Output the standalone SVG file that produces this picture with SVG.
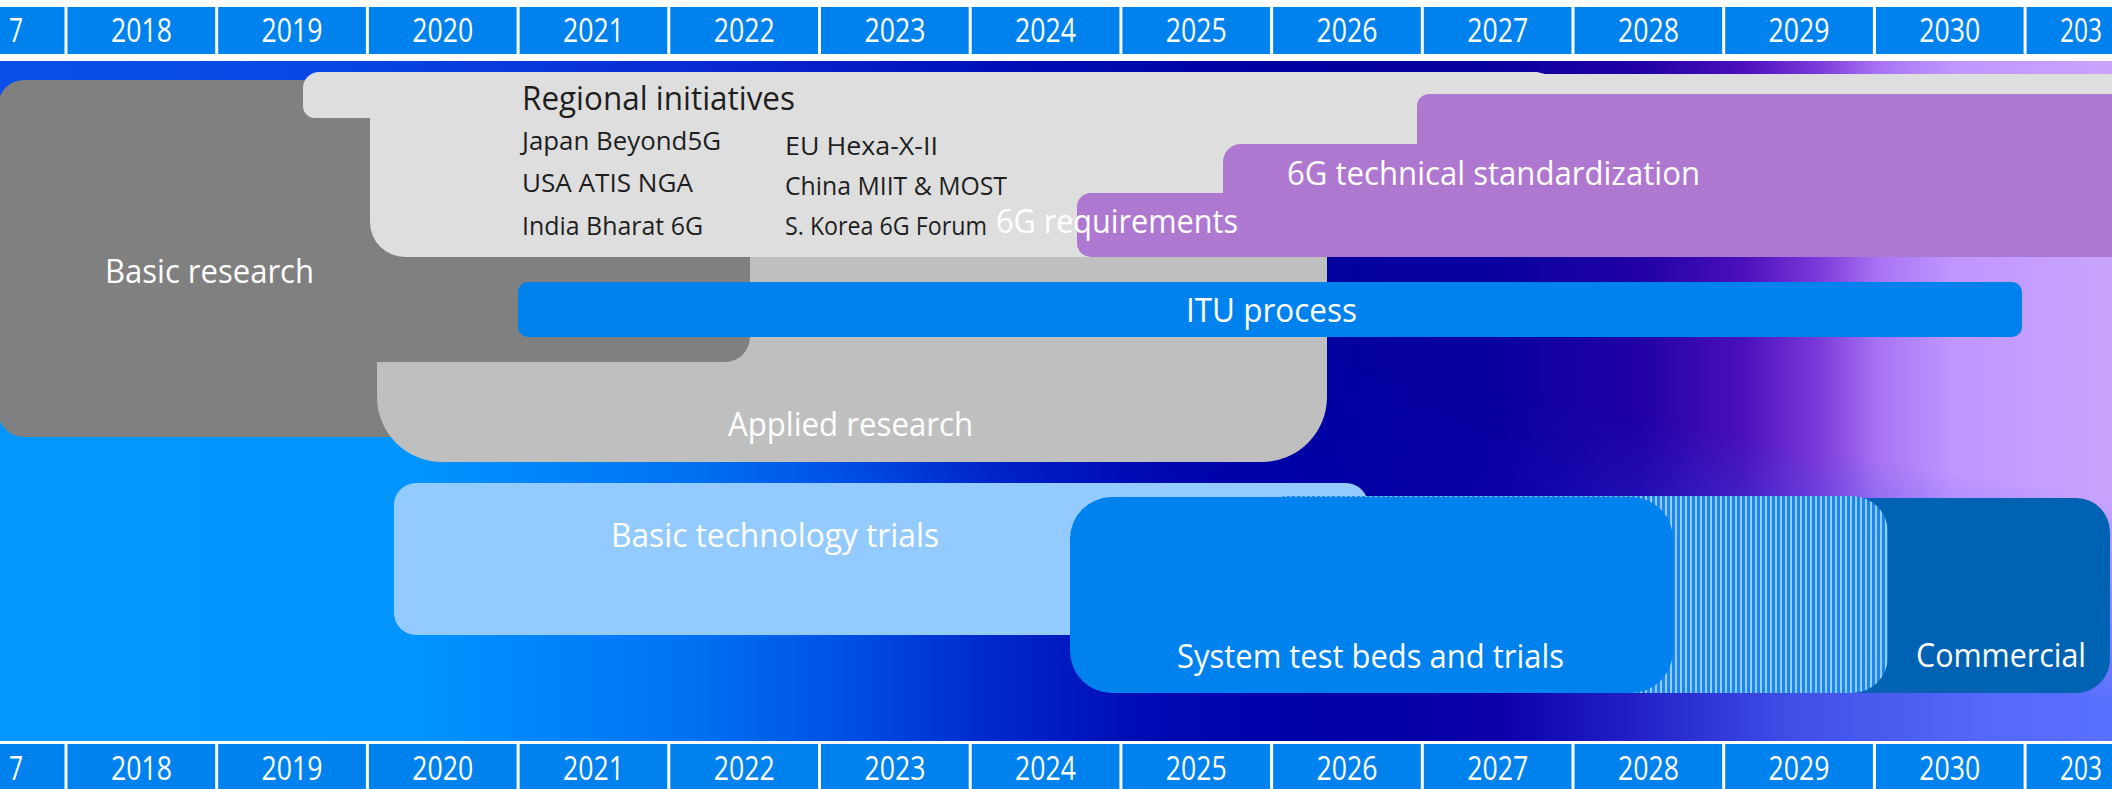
<svg xmlns="http://www.w3.org/2000/svg" width="2112" height="789" viewBox="0 0 2112 789">
<defs>
<style>
text{font-family:"Open Sans","Liberation Sans",Arial,sans-serif;}
.yr{fill:#ffffff;font-size:32px;text-anchor:middle;}
.yl{fill:#ffffff;font-size:32px;}
.lbl{fill:#ffffff;font-size:32px;}
.reg{fill:#1e1e1e;font-size:26px;}
.regh{fill:#1e1e1e;font-size:32px;}
.cell{fill:#0082ee;}
.div{stroke:#ffffff;stroke-width:3;}
</style>
<linearGradient id="bgTop" gradientUnits="userSpaceOnUse" x1="0" y1="0" x2="2112" y2="0">
<stop offset="0" stop-color="#0a50e8"/>
<stop offset="0.15" stop-color="#0648e4"/>
<stop offset="0.33" stop-color="#0a2ad4"/>
<stop offset="0.47" stop-color="#0010b8"/>
<stop offset="0.6" stop-color="#0000a0"/>
<stop offset="0.71" stop-color="#0a00a0"/>
<stop offset="0.775" stop-color="#2000a6"/>
<stop offset="0.825" stop-color="#4a10bc"/>
<stop offset="0.86" stop-color="#7a38d8"/>
<stop offset="0.89" stop-color="#a874f4"/>
<stop offset="0.925" stop-color="#c096ff"/>
<stop offset="1" stop-color="#c8a4ff"/>
</linearGradient>
<linearGradient id="bgBot" gradientUnits="userSpaceOnUse" x1="0" y1="0" x2="2112" y2="0">
<stop offset="0" stop-color="#0098ff"/>
<stop offset="0.2" stop-color="#0094ff"/>
<stop offset="0.33" stop-color="#0070f2"/>
<stop offset="0.4" stop-color="#0050e4"/>
<stop offset="0.47" stop-color="#0028cc"/>
<stop offset="0.55" stop-color="#0008b2"/>
<stop offset="0.62" stop-color="#0000a8"/>
<stop offset="0.71" stop-color="#0c00aa"/>
<stop offset="0.78" stop-color="#2424c8"/>
<stop offset="0.85" stop-color="#4050e8"/>
<stop offset="0.94" stop-color="#5568f8"/>
<stop offset="1" stop-color="#5a70ff"/>
</linearGradient>
<linearGradient id="fadeV" gradientUnits="userSpaceOnUse" x1="0" y1="120" x2="-35" y2="314">
<stop offset="0" stop-color="#000000"/>
<stop offset="1" stop-color="#ffffff"/>
</linearGradient>
<mask id="botMask" maskUnits="userSpaceOnUse" x="0" y="0" width="2112" height="789">
<rect x="0" y="0" width="2112" height="789" fill="url(#fadeV)"/>
</mask>
<pattern id="stripes" patternUnits="userSpaceOnUse" x="0" y="0" width="5" height="10">
<rect width="5" height="10" fill="#1a86ee"/>
<rect width="2" height="10" fill="#92cbff"/>
</pattern>
</defs>

<g id="background">
<rect x="0" y="0" width="2112" height="789" fill="#ffffff"/>
<rect x="0" y="61" width="2112" height="680" fill="url(#bgTop)"/>
<rect x="0" y="61" width="2112" height="680" fill="url(#bgBot)" mask="url(#botMask)"/>
</g>

<g id="timeline-top">
<rect class="cell" x="0" y="7" width="2112" height="47"/>
<g class="div">
<line x1="66" y1="7" x2="66" y2="54"/><line x1="216.7" y1="7" x2="216.7" y2="54"/><line x1="367.4" y1="7" x2="367.4" y2="54"/><line x1="518.1" y1="7" x2="518.1" y2="54"/><line x1="668.8" y1="7" x2="668.8" y2="54"/><line x1="819.5" y1="7" x2="819.5" y2="54"/><line x1="970.2" y1="7" x2="970.2" y2="54"/><line x1="1120.9" y1="7" x2="1120.9" y2="54"/><line x1="1271.6" y1="7" x2="1271.6" y2="54"/><line x1="1422.3" y1="7" x2="1422.3" y2="54"/><line x1="1573" y1="7" x2="1573" y2="54"/><line x1="1723.7" y1="7" x2="1723.7" y2="54"/><line x1="1874.4" y1="7" x2="1874.4" y2="54"/><line x1="2025.1" y1="7" x2="2025.1" y2="54"/>
</g>
<text class="yl" x="9" y="42" textLength="14" lengthAdjust="spacingAndGlyphs">7</text>
<text class="yr" x="141.4" y="42" textLength="61" lengthAdjust="spacingAndGlyphs">2018</text>
<text class="yr" x="292.1" y="42" textLength="61" lengthAdjust="spacingAndGlyphs">2019</text>
<text class="yr" x="442.8" y="42" textLength="61" lengthAdjust="spacingAndGlyphs">2020</text>
<text class="yr" x="593.5" y="42" textLength="61" lengthAdjust="spacingAndGlyphs">2021</text>
<text class="yr" x="744.2" y="42" textLength="61" lengthAdjust="spacingAndGlyphs">2022</text>
<text class="yr" x="894.9" y="42" textLength="61" lengthAdjust="spacingAndGlyphs">2023</text>
<text class="yr" x="1045.6" y="42" textLength="61" lengthAdjust="spacingAndGlyphs">2024</text>
<text class="yr" x="1196.3" y="42" textLength="61" lengthAdjust="spacingAndGlyphs">2025</text>
<text class="yr" x="1347" y="42" textLength="61" lengthAdjust="spacingAndGlyphs">2026</text>
<text class="yr" x="1497.7" y="42" textLength="61" lengthAdjust="spacingAndGlyphs">2027</text>
<text class="yr" x="1648.4" y="42" textLength="61" lengthAdjust="spacingAndGlyphs">2028</text>
<text class="yr" x="1799.1" y="42" textLength="61" lengthAdjust="spacingAndGlyphs">2029</text>
<text class="yr" x="1949.8" y="42" textLength="61" lengthAdjust="spacingAndGlyphs">2030</text>
<text class="yl" x="2060" y="42" textLength="42" lengthAdjust="spacingAndGlyphs">203</text>
</g>

<g id="timeline-bottom">
<rect class="cell" x="0" y="744" width="2112" height="45"/>
<g class="div">
<line x1="66" y1="744" x2="66" y2="789"/><line x1="216.7" y1="744" x2="216.7" y2="789"/><line x1="367.4" y1="744" x2="367.4" y2="789"/><line x1="518.1" y1="744" x2="518.1" y2="789"/><line x1="668.8" y1="744" x2="668.8" y2="789"/><line x1="819.5" y1="744" x2="819.5" y2="789"/><line x1="970.2" y1="744" x2="970.2" y2="789"/><line x1="1120.9" y1="744" x2="1120.9" y2="789"/><line x1="1271.6" y1="744" x2="1271.6" y2="789"/><line x1="1422.3" y1="744" x2="1422.3" y2="789"/><line x1="1573" y1="744" x2="1573" y2="789"/><line x1="1723.7" y1="744" x2="1723.7" y2="789"/><line x1="1874.4" y1="744" x2="1874.4" y2="789"/><line x1="2025.1" y1="744" x2="2025.1" y2="789"/>
</g>
<text class="yl" x="9" y="780" textLength="14" lengthAdjust="spacingAndGlyphs">7</text>
<text class="yr" x="141.4" y="780" textLength="61" lengthAdjust="spacingAndGlyphs">2018</text>
<text class="yr" x="292.1" y="780" textLength="61" lengthAdjust="spacingAndGlyphs">2019</text>
<text class="yr" x="442.8" y="780" textLength="61" lengthAdjust="spacingAndGlyphs">2020</text>
<text class="yr" x="593.5" y="780" textLength="61" lengthAdjust="spacingAndGlyphs">2021</text>
<text class="yr" x="744.2" y="780" textLength="61" lengthAdjust="spacingAndGlyphs">2022</text>
<text class="yr" x="894.9" y="780" textLength="61" lengthAdjust="spacingAndGlyphs">2023</text>
<text class="yr" x="1045.6" y="780" textLength="61" lengthAdjust="spacingAndGlyphs">2024</text>
<text class="yr" x="1196.3" y="780" textLength="61" lengthAdjust="spacingAndGlyphs">2025</text>
<text class="yr" x="1347" y="780" textLength="61" lengthAdjust="spacingAndGlyphs">2026</text>
<text class="yr" x="1497.7" y="780" textLength="61" lengthAdjust="spacingAndGlyphs">2027</text>
<text class="yr" x="1648.4" y="780" textLength="61" lengthAdjust="spacingAndGlyphs">2028</text>
<text class="yr" x="1799.1" y="780" textLength="61" lengthAdjust="spacingAndGlyphs">2029</text>
<text class="yr" x="1949.8" y="780" textLength="61" lengthAdjust="spacingAndGlyphs">2030</text>
<text class="yl" x="2060" y="780" textLength="42" lengthAdjust="spacingAndGlyphs">203</text>
</g>

<g id="basic-research">
<rect x="-2" y="80" width="752" height="357" rx="26" fill="#808080"/>
</g>

<g id="applied-research">
<path d="M377,362 L725,362 A25,25 0 0 0 750,337 L750,100 L1327,100 L1327,397 A65,65 0 0 1 1262,462 L442,462 A65,65 0 0 1 377,397 Z" fill="#bfbfbf"/>
<text class="lbl" x="728" y="436" textLength="245" lengthAdjust="spacingAndGlyphs">Applied research</text>
</g>

<g id="basic-research-label">
<text class="lbl" x="105" y="283" textLength="209" lengthAdjust="spacingAndGlyphs">Basic research</text>
</g>

<g id="regional-initiatives">
<path d="M303,88 A16,16 0 0 1 319,72 L1537,72 L1545,74 L2130,74 L2130,257 L405,257 A35,35 0 0 1 370,222 L370,118 L315,118 A12,12 0 0 1 303,106 Z" fill="#dedede"/>
<text class="regh" x="522" y="110" textLength="273" lengthAdjust="spacingAndGlyphs">Regional initiatives</text>
<text class="reg" x="522" y="150" textLength="199" lengthAdjust="spacingAndGlyphs">Japan Beyond5G</text>
<text class="reg" x="522" y="192" textLength="171" lengthAdjust="spacingAndGlyphs">USA ATIS NGA</text>
<text class="reg" x="522" y="235" textLength="181" lengthAdjust="spacingAndGlyphs">India Bharat 6G</text>
<text class="reg" x="785" y="155" textLength="153" lengthAdjust="spacingAndGlyphs">EU Hexa-X-II</text>
<text class="reg" x="785" y="195" textLength="222" lengthAdjust="spacingAndGlyphs">China MIIT &amp; MOST</text>
<text class="reg" x="785" y="235" textLength="202" lengthAdjust="spacingAndGlyphs">S. Korea 6G Forum</text>
</g>

<g id="standardization">
<rect x="1077" y="193" width="1060" height="64" rx="14" fill="#ae78d0"/>
<rect x="1223" y="144" width="920" height="113" rx="18" fill="#ae78d0"/>
<rect x="1417" y="94" width="720" height="163" rx="12" fill="#ae78d0"/>
<text class="lbl" x="996" y="233" textLength="242" lengthAdjust="spacingAndGlyphs">6G requirements</text>
<text class="lbl" x="1287" y="185" textLength="413" lengthAdjust="spacingAndGlyphs">6G technical standardization</text>
</g>

<g id="itu-process">
<rect x="518" y="282" width="1504" height="55" rx="10" fill="#0082ee"/>
<text class="lbl" x="1186" y="322" textLength="171" lengthAdjust="spacingAndGlyphs">ITU process</text>
</g>

<g id="basic-technology-trials">
<rect x="394" y="483" width="974" height="152" rx="22" fill="#93cbff"/>
<text class="lbl" x="611" y="547" textLength="328" lengthAdjust="spacingAndGlyphs">Basic technology trials</text>
</g>

<g id="commercial">
<rect x="1720" y="498" width="390" height="195" rx="34" fill="#0062b3"/>
<text class="lbl" x="1916" y="667" textLength="170" lengthAdjust="spacingAndGlyphs">Commercial</text>
</g>

<g id="transition">
<rect x="1251" y="496" width="637" height="197" rx="36" fill="url(#stripes)"/>
</g>

<g id="system-test-beds">
<rect x="1070" y="497" width="603" height="196" rx="42" fill="#0082ee"/>
<text class="lbl" x="1177" y="668" textLength="387" lengthAdjust="spacingAndGlyphs">System test beds and trials</text>
</g>

<g id="connectors"></g>
</svg>
